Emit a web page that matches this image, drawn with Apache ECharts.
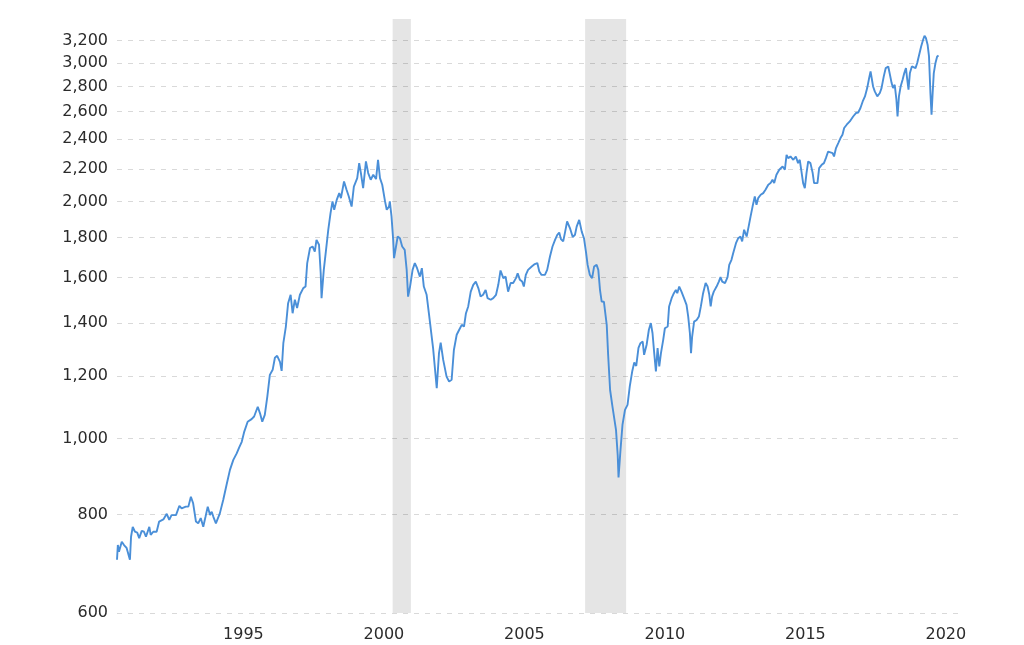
<!DOCTYPE html>
<html>
<head>
<meta charset="utf-8">
<script src="https://cdn.jsdelivr.net/npm/echarts@6/dist/echarts.min.js"></script>
<style>
	html, body { margin: 0; padding: 0; background: #fff; }
	#chart { width: 1024px; height: 645px; }
</style>
</head>
<body>
<div id="chart"></div>
<script>
// values (decimal year, index level)
const years = [
	1990.50, 1990.53, 1990.57, 1990.67, 1990.75, 1990.84, 1990.90, 1990.96, 1991.00, 1991.06,
	1991.14, 1991.22, 1991.29, 1991.38, 1991.46, 1991.53, 1991.65, 1991.70, 1991.79, 1991.91,
	1992.00, 1992.15, 1992.27, 1992.36, 1992.44, 1992.60, 1992.72, 1992.80, 1992.95, 1993.04,
	1993.13, 1993.21, 1993.31, 1993.39, 1993.48, 1993.57, 1993.65, 1993.73, 1993.81, 1993.87,
	1993.93, 1994.02, 1994.16, 1994.28, 1994.40, 1994.52, 1994.64, 1994.76, 1994.85, 1994.94,
	1995.03, 1995.15, 1995.29, 1995.38, 1995.51, 1995.59, 1995.67, 1995.76, 1995.85, 1995.94,
	1996.04, 1996.12, 1996.20, 1996.30, 1996.36, 1996.42, 1996.51, 1996.59, 1996.68, 1996.75,
	1996.83, 1996.91, 1997.01, 1997.13, 1997.21, 1997.27, 1997.37, 1997.46, 1997.54, 1997.60,
	1997.69, 1997.75, 1997.78, 1997.86, 1997.94, 1998.02, 1998.10, 1998.17, 1998.23, 1998.32,
	1998.41, 1998.47, 1998.58, 1998.67, 1998.75, 1998.85, 1998.93, 1999.05, 1999.12, 1999.19,
	1999.26, 1999.36, 1999.44, 1999.53, 1999.62, 1999.72, 1999.79, 1999.86, 1999.94, 2000.04,
	2000.10, 2000.18, 2000.21, 2000.27, 2000.33, 2000.36, 2000.43, 2000.49, 2000.57, 2000.65,
	2000.74, 2000.81, 2000.86, 2000.93, 2001.02, 2001.10, 2001.18, 2001.28, 2001.35, 2001.42,
	2001.52, 2001.60, 2001.70, 2001.75, 2001.88, 2001.96, 2002.02, 2002.11, 2002.23, 2002.32,
	2002.41, 2002.49, 2002.59, 2002.68, 2002.77, 2002.85, 2002.92, 2003.00, 2003.09, 2003.18,
	2003.27, 2003.36, 2003.44, 2003.53, 2003.62, 2003.69, 2003.80, 2003.89, 2003.99, 2004.07,
	2004.15, 2004.25, 2004.33, 2004.42, 2004.51, 2004.60, 2004.70, 2004.76, 2004.84, 2004.92,
	2004.98, 2005.05, 2005.13, 2005.26, 2005.37, 2005.46, 2005.53, 2005.61, 2005.73, 2005.81,
	2005.91, 2006.00, 2006.09, 2006.17, 2006.24, 2006.30, 2006.38, 2006.44, 2006.52, 2006.62,
	2006.72, 2006.80, 2006.86, 2006.95, 2007.04, 2007.12, 2007.19, 2007.25, 2007.33, 2007.41,
	2007.48, 2007.57, 2007.63, 2007.69, 2007.75, 2007.83, 2007.93, 2007.98, 2008.05, 2008.13,
	2008.18, 2008.26, 2008.32, 2008.35, 2008.42, 2008.49, 2008.58, 2008.67, 2008.75, 2008.84,
	2008.91, 2008.98, 2009.06, 2009.13, 2009.21, 2009.26, 2009.35, 2009.43, 2009.50, 2009.56,
	2009.62, 2009.68, 2009.74, 2009.80, 2009.86, 2009.94, 2010.00, 2010.10, 2010.15, 2010.24,
	2010.32, 2010.39, 2010.44, 2010.51, 2010.59, 2010.68, 2010.77, 2010.83, 2010.89, 2010.93,
	2010.97, 2011.04, 2011.13, 2011.21, 2011.28, 2011.36, 2011.45, 2011.52, 2011.58, 2011.63,
	2011.68, 2011.74, 2011.84, 2011.92, 2011.98, 2012.04, 2012.14, 2012.23, 2012.29, 2012.37,
	2012.43, 2012.53, 2012.61, 2012.69, 2012.75, 2012.82, 2012.91, 2012.98, 2013.05, 2013.12,
	2013.20, 2013.26, 2013.32, 2013.41, 2013.50, 2013.58, 2013.68, 2013.76, 2013.83, 2013.89,
	2013.97, 2014.07, 2014.19, 2014.27, 2014.33, 2014.39, 2014.47, 2014.57, 2014.66, 2014.74,
	2014.80, 2014.86, 2014.92, 2014.98, 2015.04, 2015.10, 2015.18, 2015.26, 2015.31, 2015.37,
	2015.43, 2015.49, 2015.58, 2015.66, 2015.73, 2015.81, 2015.87, 2015.97, 2016.02, 2016.09,
	2016.17, 2016.25, 2016.32, 2016.38, 2016.47, 2016.58, 2016.70, 2016.80, 2016.88, 2016.96,
	2017.04, 2017.12, 2017.20, 2017.27, 2017.32, 2017.37, 2017.41, 2017.47, 2017.56, 2017.65,
	2017.71, 2017.79, 2017.86, 2017.95, 2018.01, 2018.07, 2018.12, 2018.18, 2018.24, 2018.28,
	2018.33, 2018.39, 2018.46, 2018.52, 2018.58, 2018.62, 2018.67, 2018.72, 2018.79, 2018.86,
	2018.92, 2018.98, 2019.05, 2019.12, 2019.19, 2019.24, 2019.29, 2019.35, 2019.40, 2019.45,
	2019.49, 2019.53, 2019.57, 2019.63, 2019.69, 2019.74
];
const prices = [
	701, 732, 718, 739, 732, 726, 722, 701, 750, 772,
	761, 759, 747, 763, 761, 750, 772, 754, 761, 761,
	784, 789, 802, 788, 799, 799, 821, 815, 819, 819,
	843, 827, 784, 780, 792, 772, 795, 819, 799, 807,
	795, 780, 803, 835, 873, 912, 939, 957, 974, 990,
	1020, 1050, 1058, 1066, 1097, 1076, 1050, 1071, 1130, 1204,
	1222, 1266, 1273, 1251, 1218, 1321, 1387, 1485, 1522, 1442,
	1500, 1464, 1522, 1552, 1559, 1670, 1745, 1753, 1727, 1787,
	1762, 1621, 1507, 1637, 1736, 1841, 1933, 2000, 1952, 2009,
	2049, 2019, 2120, 2069, 2029, 1970, 2089, 2141, 2237, 2162,
	2079, 2248, 2173, 2131, 2162, 2135, 2259, 2141, 2100, 2000,
	1952, 1970, 2000, 1914, 1787, 1694, 1753, 1805, 1796, 1753,
	1736, 1637, 1514, 1559, 1637, 1670, 1645, 1605, 1645, 1559,
	1522, 1442, 1347, 1302, 1158, 1283, 1323, 1258, 1198, 1181,
	1187, 1295, 1354, 1374, 1394, 1387, 1442, 1471, 1536, 1567,
	1582, 1552, 1514, 1522, 1544, 1507, 1500, 1507, 1522, 1567,
	1634, 1598, 1605, 1536, 1575, 1575, 1598, 1621, 1590, 1582,
	1559, 1613, 1637, 1653, 1665, 1670, 1629, 1613, 1613, 1637,
	1702, 1753, 1787, 1814, 1826, 1791, 1779, 1823, 1886, 1850,
	1802, 1814, 1858, 1895, 1831, 1796, 1727, 1661, 1613, 1598,
	1653, 1661, 1637, 1544, 1492, 1491, 1394, 1277, 1152, 1100,
	1103, 1025, 953, 892, 967, 1040, 1087, 1103, 1164, 1218,
	1249, 1236, 1303, 1321, 1327, 1277, 1315, 1374, 1401, 1360,
	1283, 1216, 1302, 1234, 1283, 1334, 1380, 1387, 1471, 1507,
	1529, 1544, 1529, 1559, 1536, 1507, 1478, 1428, 1360, 1283,
	1347, 1407, 1414, 1428, 1471, 1529, 1575, 1559, 1522, 1471,
	1514, 1536, 1559, 1582, 1603, 1582, 1575, 1603, 1661, 1686,
	1719, 1770, 1796, 1805, 1779, 1841, 1805, 1858, 1914, 1970,
	2029, 1980, 2019, 2039, 2049, 2069, 2100, 2110, 2131, 2110,
	2162, 2194, 2215, 2194, 2292, 2270, 2281, 2259, 2281, 2237,
	2259, 2183, 2110, 2079, 2173, 2248, 2237, 2173, 2110, 2100,
	2110, 2205, 2226, 2237, 2270, 2314, 2326, 2304, 2281, 2338,
	2372, 2407, 2430, 2479, 2503, 2527, 2564, 2590, 2594, 2628,
	2679, 2719, 2786, 2869, 2925, 2855, 2799, 2759, 2719, 2746,
	2786, 2883, 2954, 2968, 2897, 2827, 2786, 2813, 2693, 2564,
	2719, 2799, 2855, 2911, 2954, 2869, 2773, 2911, 2968, 2983,
	2954, 2998, 3072, 3147, 3209, 3247, 3225, 3163, 3056, 2746,
	2577, 2746, 2911, 2998, 3056, 3065
];

// recession bands (start, end) in the same decimal years
const recessions = [
	[2000.31, 2000.96],
	[2007.16, 2008.62]
];

const yearTicks = [1995, 2000, 2005, 2010, 2015, 2020];
const priceTicks = [600, 800, 1000, 1200, 1400, 1600, 1800, 2000, 2200, 2400, 2600, 2800, 3000, 3200];

const chart = echarts.init(document.getElementById('chart'));

const lineData = years.map((y, i) => [y, prices[i]]);

const option = {
	animation: false,
	backgroundColor: '#ffffff',
	grid: {
		left: 117,
		right: 61,
		top: 19,
		bottom: 32
	},
	xAxis: {
		type: 'value',
		min: 1990.5,
		max: 2020.61,
		axisLine: { show: false },
		axisTick: { show: false },
		splitLine: { show: false },
		axisLabel: {
			customValues: yearTicks,
			formatter: v => String(Math.round(v)),
			fontFamily: 'DejaVu Sans',
			fontSize: 16,
			color: '#2b2b2b',
			margin: 14
		}
	},
	yAxis: {
		type: 'log',
		logBase: 10,
		min: 600,
		max: 3410,
		axisLine: { show: false },
		axisTick: { show: false, customValues: priceTicks },
		axisLabel: {
			customValues: priceTicks,
			formatter: v => Math.round(v).toLocaleString('en-US'),
			fontFamily: 'DejaVu Sans',
			fontSize: 16,
			color: '#2b2b2b',
			margin: 9
		},
		splitLine: {
			show: true,
			lineStyle: { color: '#d9d9d9', type: [5, 6], width: 1.2 }
		}
	},
	series: [
		{
			name: 'recessions',
			type: 'line',
			data: [],
			silent: true,
			markArea: {
				silent: true,
				itemStyle: { color: 'rgba(0, 0, 0, 0.1)' },
				data: recessions.map(r => [{ xAxis: r[0] }, { xAxis: r[1] }])
			}
		},
		{
			name: 'index',
			type: 'line',
			data: lineData,
			showSymbol: false,
			smooth: false,
			lineStyle: { color: '#4a8fd8', width: 1.9 },
			itemStyle: { color: '#4a8fd8' }
		}
	]
};

chart.setOption(option);
</script>
</body>
</html>
